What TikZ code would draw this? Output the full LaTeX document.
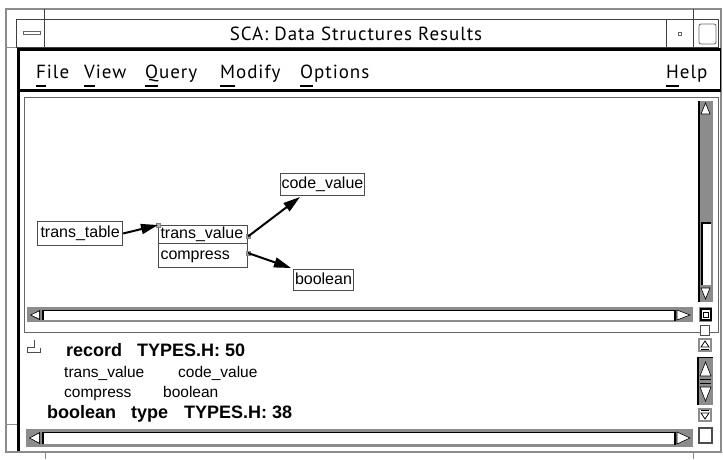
\documentclass[tikz,border=0pt]{standalone}
\usepackage{fontspec}
\setmainfont{Liberation Sans}
\newfontfamily\uifont[LetterSpace=5]{PT Sans}
\usetikzlibrary{arrows.meta}
\definecolor{stip}{gray}{0.55}
\definecolor{boxline}{gray}{0.3}
\newlength\mnemlen
\newcommand\mnem[1]{\settowidth\mnemlen{#1}\rlap{\rule[-8.5pt]{\mnemlen}{1.4pt}}#1}
\tikzset{
  stipband/.style={fill=stip,draw=none},
  frameline/.style={draw=stip,line width=2pt},
  thinline/.style={draw=black!75,line width=0.9pt},
  gnode/.style={draw=boxline,line width=1pt,inner xsep=2pt,inner ysep=1.5pt,anchor=north west,
    align=left,font=\fontsize{16}{18}\selectfont,text height=11.5pt,text depth=3.5pt},
  flow/.style={line width=2pt,-{Triangle[length=17pt,width=10pt]}},
  marker/.style={draw=gray,fill=gray!60,minimum size=4pt,inner sep=0pt,line width=0.6pt},
  menuitem/.style={anchor=base west,inner sep=0pt,font=\uifont\fontsize{19}{22}\selectfont},
  lowtext/.style={anchor=base west,inner sep=0pt,font=\fontsize{15.5}{18}\selectfont},
  lowbold/.style={anchor=base west,inner sep=0pt,font=\bfseries\fontsize{18}{21}\selectfont},
  arrowtri/.style={fill=white,draw=black,line width=0.6pt},
}
\begin{document}
\begin{tikzpicture}[x=1pt,y=-1pt]
\useasboundingbox (0,0) rectangle (723,459);
\fill[white] (0,0) rectangle (723,459);
% outer window frame
\draw[frameline] (6,9) rectangle (721,452);
\draw[frameline,line width=1pt] (6,47) -- (17,47);
\draw[frameline,line width=1pt] (6,424) -- (17,424);
\draw[frameline,line width=1pt] (45,452) -- (45,459);
\draw[frameline,line width=1pt] (693,452) -- (693,459);
% title bar
\draw[thinline] (16,19) rectangle (718,47);
\draw[thinline] (44,9) -- (44,47);
\draw[thinline] (693,9) -- (693,47);
\draw[thinline] (666,19) -- (666,47);
\draw[draw=black!60,line width=0.8pt] (23,31) rectangle (40,34);
\draw[draw=black!60,line width=0.6pt] (678,32) rectangle (681,35);
\draw[draw=black!60,line width=0.8pt,rounded corners=2pt] (699,24) rectangle (716,44);
\node[anchor=base,inner sep=0pt,font=\uifont\fontsize{19}{22}\selectfont] (title) at (356,40) {SCA: Data Structures Results};
% main window border
\draw[line width=3pt] (18,48) -- (18,451);
\draw[line width=3pt] (17,49.5) -- (720,49.5);
\draw[line width=3pt] (17,90.5) -- (720,90.5);
\draw[line width=1pt] (720,48) -- (720,92);
% menu
\node[menuitem] (mfile) at (36,78) {\mnem{F}ile};
\node[menuitem] (mview) at (84,78) {\mnem{V}iew};
\node[menuitem] (mquery) at (145,78) {\mnem{Q}uery};
\node[menuitem] (mmod) at (220,78) {\mnem{M}odify};
\node[menuitem] (mopt) at (300,78) {\mnem{O}ptions};
\node[menuitem] (mhelp) at (666,78) {\mnem{H}elp};
% graph panel
\draw[draw=black!60,line width=1pt] (24,97) rectangle (718,332);
% upper horizontal scrollbar
\fill[stipband] (27,307) rectangle (693,322);
\fill[white] (43,310) rectangle (675,320);
\draw[line width=1.5pt] (43,320) -- (43,310.5) -- (675,310.5);
\draw[line width=1.2pt] (675,310) -- (675,321);
\fill[black] (30,315) -- (40,310) -- (40,320) -- cycle;
\fill[white] (31.5,315) -- (39,311.5) -- (39,318.5) -- cycle;
\draw[arrowtri] (677,310) -- (690,315) -- (677,320) -- cycle;
% upper vertical scrollbar
\fill[stipband] (698,101) rectangle (713,302);
\draw[line width=1.5pt] (699,101) -- (699,302);
\fill[white] (702,223) rectangle (711,285);
\draw[line width=1.2pt] (702,285) -- (702,223) -- (711,223);
\draw[arrowtri] (701,114) -- (705.5,103) -- (710,114) -- cycle;
\draw[arrowtri] (701,288) -- (705.5,299) -- (710,288) -- cycle;
% corner box
\fill[stipband] (699,307) rectangle (712,322);
\draw[line width=1.5pt,fill=white] (701,309) rectangle (711,320);
\draw[line width=0.8pt] (703.5,312) rectangle (708.5,317);
% graph nodes
\node[gnode,inner xsep=3pt,minimum height=24pt] (ttable) at (37,221) {trans\_table};
\node[gnode,text width=85pt,minimum height=18pt] (tvalue) at (158,225) {trans\_value};
\node[gnode,text width=85pt,minimum height=24pt] (compress) at (158,243) {compress};
\node[gnode,inner xsep=1pt,minimum height=22pt] (cvalue) at (280,173) {code\_value};
\node[gnode,inner xsep=1.5pt,minimum height=21pt] (boolean) at (293,269) {boolean};
\node[marker] (m1) at (tvalue.north west) {};
\node[marker] (m2) at ([yshift=-2pt]tvalue.east) {};
\node[marker] (m3) at (compress.east |- 0,253) {};
\coordinate (t2) at (300,197);
\coordinate (t3) at (291,268);
\draw[flow] (ttable.east) -- (m1.center);
\draw[flow] (m2.center) -- (t2);
\draw[flow] (m3.center) -- (t3);
% lower panel icon
\draw[black!70,line width=0.9pt] (27,347) -- (27,352) -- (40,352) -- (40,348);
\draw[black!70,line width=0.9pt] (27,347) -- (34,347) -- (34,340);
% lower panel text
\node[lowbold] (rec) at (66,356) {record};
\node[lowbold] (recloc) at (137,356) {TYPES.H: 50};
\node[lowtext] (f1) at (64,377) {trans\_value};
\node[lowtext] (f1t) at (178,377) {code\_value};
\node[lowtext] (f2) at (64,397) {compress};
\node[lowtext] (f2t) at (163,397) {boolean};
\node[lowbold] (bname) at (47,418) {boolean};
\node[lowbold] (btype) at (131,418) {type};
\node[lowbold] (bloc) at (184,418) {TYPES.H: 38};
% lower horizontal scrollbar
\fill[stipband] (26,429) rectangle (693,447);
\fill[white] (43,432) rectangle (675,444);
\draw[line width=1.5pt] (43,444) -- (43,432.5) -- (675,432.5);
\draw[line width=1.2pt] (675,432) -- (675,445);
\fill[black] (29,438) -- (40,432) -- (40,444) -- cycle;
\fill[white] (30.5,438) -- (39,433.5) -- (39,442.5) -- cycle;
\draw[arrowtri] (677,432) -- (690,438) -- (677,444) -- cycle;
% lower right controls
\draw[draw=black!70,line width=1pt,fill=white] (700,325) rectangle (709,335);
\fill[stipband] (698,338) rectangle (712,352);
\fill[white] (700,340) rectangle (710,350);
\draw[line width=0.8pt] (701,347) -- (705,341) -- (709,347) -- cycle;
\draw[line width=1pt] (701,349.5) -- (709,349.5);
\fill[stipband] (697,357) rectangle (713,405);
\draw[line width=1.5pt] (698,405) -- (698,357.5) -- (713,357.5);
\draw[arrowtri] (700,376) -- (705.5,362) -- (711,376) -- cycle;
\draw[line width=1pt] (700,379) -- (711,379);
\draw[line width=1pt] (700,383) -- (711,383);
\draw[arrowtri] (700,387) -- (705.5,401) -- (711,387) -- cycle;
\fill[stipband] (698,408) rectangle (712,422);
\fill[white] (700,410) rectangle (710,420);
\draw[line width=0.8pt] (701,413) -- (705,419) -- (709,413) -- cycle;
\draw[line width=1pt] (701,410.5) -- (709,410.5);
\draw[draw=black!70,line width=1.2pt,fill=white] (699,428) rectangle (712,443);
\end{tikzpicture}
\end{document}
